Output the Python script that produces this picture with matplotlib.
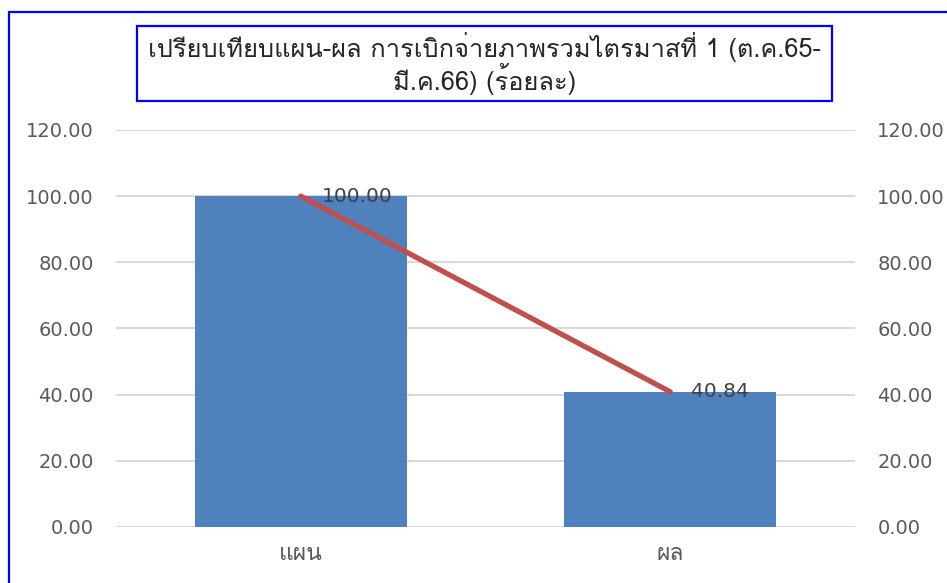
import numpy as np
import matplotlib
matplotlib.use("Agg")
import matplotlib.pyplot as plt
from matplotlib import font_manager
from matplotlib.ft2font import FT2Font
from matplotlib.patches import Rectangle

# Data ----
categories = ["แผน", "ผล"]
values = [100.00, 40.84]
y_ticks = [0, 20, 40, 60, 80, 100, 120]
title = "เปรียบเทียบแผน-ผล การเบิกจ่ายภาพรวมไตรมาสที่ 1 (ต.ค.65-\nมี.ค.66) (ร้อยละ)"


# Find an installed font that has Thai glyphs
def find_thai_font():
    for f in font_manager.fontManager.ttflist:
        try:
            ft = FT2Font(f.fname)
            if ft.get_char_index(ord("ก")) and ft.get_char_index(ord("0")):
                return f.name
        except Exception:
            continue
    return None


thai = find_thai_font()
families = [thai, "DejaVu Sans"] if thai else ["DejaVu Sans"]
plt.rcParams["font.family"] = families

bar_color = "#4F81BD"
line_color = "#C0504D"
grid_color = "#D9D9D9"
text_color = "#595959"

fig = plt.figure(figsize=(9.47, 5.83), dpi=100)
ax = fig.add_axes([0.1225, 0.0961, 0.7804, 0.681])

x = np.arange(len(categories))
ax.bar(x, values, width=0.574, color=bar_color, zorder=2)
ax.plot(x, values, color=line_color, linewidth=3.8, solid_capstyle="round", zorder=3)
for xi, v in zip(x, values):
    ax.annotate(f"{v:.2f}", (xi, v), xytext=(15, 0), textcoords="offset points",
                ha="left", va="center", fontsize=14.5, color="#404040",
                family="DejaVu Sans", zorder=4)

ax.set_xlim(-0.5, 1.5)
ax.set_ylim(0, 120)
ax.set_yticks(y_ticks)
ax.set_yticklabels([f"{t:.2f}" for t in y_ticks], family="DejaVu Sans")
ax.set_xticks(x)
ax.set_xticklabels(categories, fontsize=16.5, color=text_color)
ax.grid(axis="y", color=grid_color, linewidth=1.5, zorder=0)
ax.set_axisbelow(True)
for s in ax.spines.values():
    s.set_visible(False)
ax.tick_params(axis="both", length=0, labelcolor=text_color)
ax.tick_params(axis="y", pad=16, labelsize=14)
ax.tick_params(axis="x", pad=12)

ax2 = ax.twinx()
ax2.set_ylim(0, 120)
ax2.set_yticks(y_ticks)
ax2.set_yticklabels([f"{t:.2f}" for t in y_ticks], family="DejaVu Sans")
for s in ax2.spines.values():
    s.set_visible(False)
ax2.tick_params(axis="y", length=0, labelsize=14, labelcolor=text_color, pad=16)

# Outer blue frame (chart area border)
fig.patches.append(Rectangle((9 / 947, -0.2), 1.2, 1.2 - 12 / 583, transform=fig.transFigure,
                             fill=False, edgecolor="#0000FF", linewidth=1.6))

# Title box
fig.patches.append(Rectangle((137 / 947, 1 - 101 / 583), 695 / 947, 75 / 583,
                             transform=fig.transFigure, fill=False,
                             edgecolor="#0000FF", linewidth=1.6))
fig.text(484.5 / 947, 1 - 63.5 / 583, title, ha="center", va="center",
         fontsize=18.3, color="#262626", linespacing=1.05)

fig.savefig("out.png", dpi=100)
